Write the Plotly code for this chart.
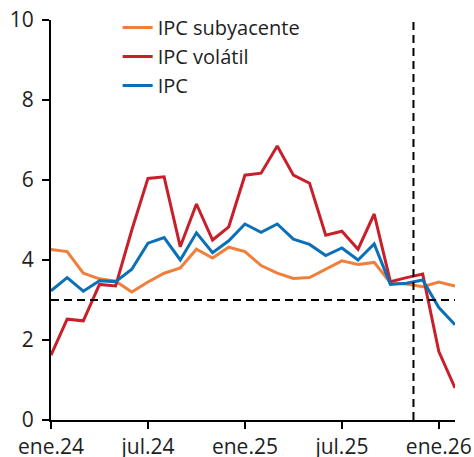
import plotly.graph_objects as go

months = ["ene.24", "feb.24", "mar.24", "abr.24", "may.24", "jun.24", "jul.24", "ago.24",
          "sep.24", "oct.24", "nov.24", "dic.24", "ene.25", "feb.25", "mar.25", "abr.25",
          "may.25", "jun.25", "jul.25", "ago.25", "sep.25", "oct.25", "nov.25", "dic.25",
          "ene.26", "feb.26"]

ipc_subyacente = [4.26, 4.21, 3.67, 3.53, 3.47, 3.20, 3.45, 3.67, 3.80, 4.27, 4.05, 4.32,
                  4.21, 3.86, 3.67, 3.54, 3.56, 3.77, 3.98, 3.89, 3.94, 3.43, 3.40, 3.33,
                  3.45, 3.35]
ipc_volatil = [1.62, 2.52, 2.48, 3.39, 3.35, 4.75, 6.04, 6.08, 4.33, 5.40, 4.50, 4.83,
               6.12, 6.17, 6.85, 6.12, 5.92, 4.62, 4.72, 4.27, 5.15, 3.46, 3.56, 3.65,
               1.71, 0.80]
ipc = [3.23, 3.56, 3.22, 3.48, 3.46, 3.77, 4.42, 4.56, 4.00, 4.68, 4.18, 4.48,
       4.90, 4.69, 4.90, 4.52, 4.39, 4.11, 4.30, 4.00, 4.40, 3.39, 3.42, 3.50,
       2.81, 2.38]

tick_labels = ["ene.24", "jul.24", "ene.25", "jul.25", "ene.26"]
y_ticks = [0, 2, 4, 6, 8, 10]
target = 3
forecast_start = 22.43  # position between nov.25 and dic.25

fig = go.Figure()
fig.add_trace(go.Scatter(x=months, y=ipc_subyacente, mode="lines", name="IPC subyacente",
                         line=dict(color="#F07F3C", width=3)))
fig.add_trace(go.Scatter(x=months, y=ipc_volatil, mode="lines", name="IPC volátil",
                         line=dict(color="#C8202A", width=3)))
fig.add_trace(go.Scatter(x=months, y=ipc, mode="lines", name="IPC",
                         line=dict(color="#0B70B8", width=3)))

fig.add_shape(type="line", xref="x", yref="y", x0=0, x1=len(months) - 1, y0=target, y1=target,
              line=dict(color="black", width=2, dash="8px,5px"), layer="above")
fig.add_shape(type="line", xref="x", yref="paper", x0=forecast_start, x1=forecast_start, y0=0, y1=1,
              line=dict(color="black", width=2, dash="8px,5px"), layer="above")

fig.update_layout(
    width=474, height=457,
    margin=dict(l=51, r=19, t=20, b=37, autoexpand=False),
    paper_bgcolor="white", plot_bgcolor="white",
    font=dict(family="Open Sans", size=20, color="#1e1e1e"),
    showlegend=True,
    legend=dict(x=0.165, y=1.03, xanchor="left", yanchor="top", bgcolor="rgba(0,0,0,0)",
                font=dict(size=20), tracegroupgap=0, itemwidth=30),
    xaxis=dict(type="category", range=[0, len(months) - 1], tickmode="array",
               tickvals=tick_labels, ticktext=tick_labels, automargin=False,
               tickfont=dict(size=21),
               showline=True, linecolor="black", linewidth=2, ticks="outside",
               ticklen=7, tickwidth=2, tickcolor="black", showgrid=False, zeroline=False),
    yaxis=dict(range=[0, 10], tickvals=y_ticks, showline=True, linecolor="black", linewidth=2,
               ticks="outside", ticklen=7, tickwidth=2, tickcolor="black", automargin=False,
               tickfont=dict(size=21),
               ticklabelstandoff=4, showgrid=False, zeroline=False),
)

fig.write_html("out.html", config={"displayModeBar": False},
               post_script="document.body.style.margin='0';document.body.style.overflow='hidden';")
